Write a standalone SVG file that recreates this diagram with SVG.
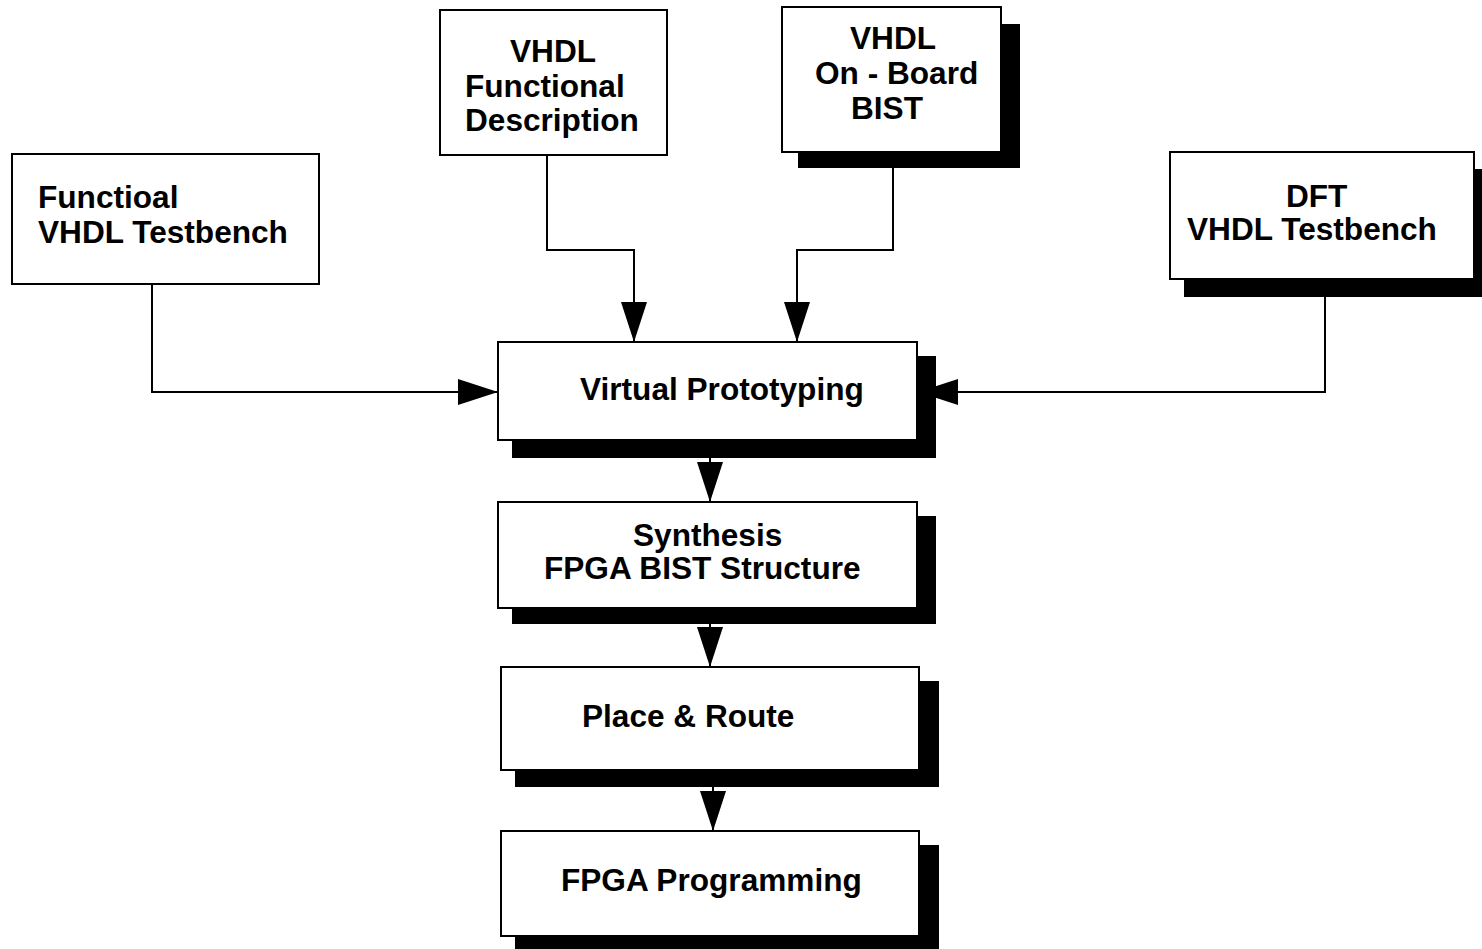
<svg xmlns="http://www.w3.org/2000/svg" width="1482" height="949" viewBox="0 0 1482 949">
  <defs>
    <style>
      .box { fill: #ffffff; stroke: #000000; stroke-width: 2; }
      .shadow { fill: #000000; stroke: none; }
      .lbl { font-family: "Liberation Sans", Arial, sans-serif; font-weight: bold; font-size: 31.6px; fill: #000000; }
      .conn { fill: none; stroke: #000000; stroke-width: 2; }
    </style>
    <marker id="arrow" markerUnits="userSpaceOnUse" markerWidth="40" markerHeight="26" refX="40" refY="13" orient="auto">
      <path d="M0,0 L40,13 L0,26 Z" fill="#000000"/>
    </marker>
  </defs>
  <rect width="1482" height="949" fill="#ffffff"/>

  <g id="node-functional-testbench">
    <rect class="box" x="12" y="154" width="307" height="130"/>
    <text class="lbl" x="38" y="208">Functioal</text>
    <text class="lbl" x="38" y="243">VHDL Testbench</text>
  </g>

  <g id="node-vhdl-functional">
    <rect class="box" x="440" y="10" width="227" height="145"/>
    <text class="lbl" x="510" y="62">VHDL</text>
    <text class="lbl" x="465" y="97">Functional</text>
    <text class="lbl" x="465" y="131">Description</text>
  </g>

  <g id="node-vhdl-bist">
    <rect class="shadow" x="798" y="24" width="222" height="144"/>
    <rect class="box" x="782" y="7" width="219" height="145"/>
    <text class="lbl" x="850" y="49">VHDL</text>
    <text class="lbl" x="815" y="84">On - Board</text>
    <text class="lbl" x="851" y="119">BIST</text>
  </g>

  <g id="node-dft-testbench">
    <rect class="shadow" x="1184" y="169" width="310" height="128"/>
    <rect class="box" x="1170" y="152" width="304" height="127"/>
    <text class="lbl" x="1286" y="207">DFT</text>
    <text class="lbl" x="1187" y="240">VHDL Testbench</text>
  </g>

  <g id="node-virtual-prototyping">
    <rect class="shadow" x="512" y="356" width="424" height="102"/>
    <rect class="box" x="498" y="342" width="419" height="98"/>
    <text class="lbl" x="580" y="400">Virtual Prototyping</text>
  </g>

  <g id="node-synthesis">
    <rect class="shadow" x="512" y="516" width="424" height="108"/>
    <rect class="box" x="498" y="502" width="419" height="106"/>
    <text class="lbl" x="633" y="546">Synthesis</text>
    <text class="lbl" x="544" y="579">FPGA BIST Structure</text>
  </g>

  <g id="node-place-route">
    <rect class="shadow" x="515" y="681" width="424" height="106"/>
    <rect class="box" x="501" y="667" width="418" height="103"/>
    <text class="lbl" x="582" y="727">Place &amp; Route</text>
  </g>

  <g id="node-fpga-programming">
    <rect class="shadow" x="515" y="845" width="424" height="104"/>
    <rect class="box" x="501" y="831" width="418" height="105"/>
    <text class="lbl" x="561" y="891">FPGA Programming</text>
  </g>

  <g id="connectors">
    <path class="conn" d="M152,284 V392 H498" marker-end="url(#arrow)"/>
    <path class="conn" d="M547,155 V250 H634 V342" marker-end="url(#arrow)"/>
    <path class="conn" d="M893,168 V250 H797 V342" marker-end="url(#arrow)"/>
    <path class="conn" d="M1325,297 V392 H918" marker-end="url(#arrow)"/>
    <path class="conn" d="M710,440 V502" marker-end="url(#arrow)"/>
    <path class="conn" d="M710,608 V667" marker-end="url(#arrow)"/>
    <path class="conn" d="M713,770 V831" marker-end="url(#arrow)"/>
  </g>
</svg>
